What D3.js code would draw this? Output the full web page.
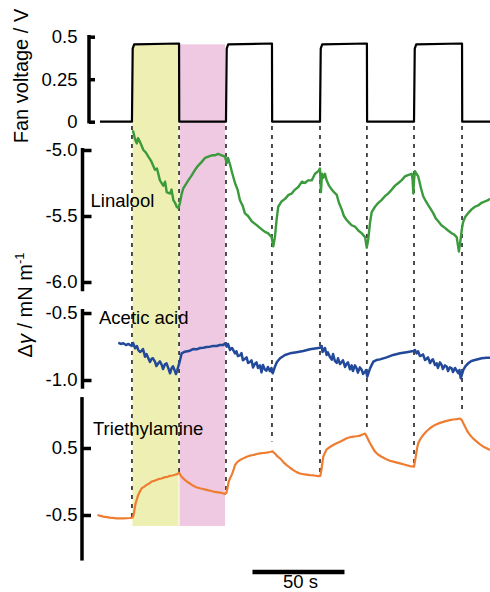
<!DOCTYPE html>
<html>
<head>
<meta charset="utf-8">
<script src="https://cdn.jsdelivr.net/npm/d3@7"></script>
<style>
  html, body { margin: 0; padding: 0; background: #fff; }
  svg { display: block; font-family: "Liberation Sans", Arial, Helvetica, sans-serif; }
</style>
</head>
<body>
<svg id="chart" width="490" height="592"></svg>
<script>
// ---------------- data (time in s) ----------------
const fanSwitchTimes = [19.0, 44.6, 70.1, 95.1, 121.2, 146.7, 172.3, 198.4];
const fanTime  = [1.6, 19.0, 19.4, 20.2, 44.6, 44.7, 70.1, 70.5, 71.3, 95.1, 95.2, 121.2, 121.6, 122.4, 146.7, 146.8, 172.3, 172.7, 173.5, 198.4, 198.5, 213.6];
const fanVolt  = [0, 0, 0.43, 0.455, 0.46, 0, 0, 0.43, 0.455, 0.46, 0, 0, 0.43, 0.455, 0.46, 0, 0, 0.43, 0.455, 0.46, 0, 0];

const shadeOn  = [19.0, 44.6];   // yellow: fan on
const shadeOff = [44.6, 70.1];   // pink: fan off

const linalool = [
 [19.0,-4.86],[19.7,-4.86],[20.7,-4.92],[21.6,-4.95],[22.3,-4.91],[23.4,-4.94],[25.2,-5.00],[26.6,-5.02],
 [27.9,-5.05],[29.3,-5.08],[31.5,-5.15],[32.6,-5.14],[34.2,-5.23],[36.0,-5.27],[37.0,-5.24],[37.9,-5.32],
 [39.7,-5.33],[40.5,-5.30],[41.5,-5.38],[42.4,-5.40],[43.3,-5.43],[44.2,-5.44],[45.1,-5.40],[45.9,-5.34],
 [46.9,-5.29],[49.6,-5.23],[51.1,-5.20],[53.3,-5.15],[54.9,-5.12],[56.9,-5.09],[58.7,-5.06],[60.5,-5.05],
 [62.5,-5.04],[64.1,-5.04],[65.8,-5.03],[67.8,-5.04],[69.6,-5.05],[70.5,-5.10],[71.2,-5.06],[72.3,-5.11],
 [73.4,-5.17],[75.0,-5.25],[76.4,-5.30],[77.7,-5.38],[79.1,-5.42],[80.4,-5.48],[82.1,-5.50],[84.1,-5.54],
 [85.9,-5.56],[87.7,-5.58],[89.4,-5.60],[91.3,-5.62],[92.9,-5.63],[94.9,-5.66],[95.8,-5.73],[96.7,-5.66],
 [97.6,-5.53],[98.5,-5.43],[100.3,-5.39],[102.2,-5.37],[104.1,-5.34],[105.8,-5.33],[107.6,-5.30],[109.4,-5.28],
 [111.4,-5.24],[113.0,-5.25],[114.7,-5.23],[116.7,-5.23],[118.5,-5.18],[120.3,-5.16],[121.2,-5.14],[121.7,-5.32],
 [122.3,-5.18],[123.0,-5.21],[123.9,-5.18],[124.8,-5.23],[126.1,-5.27],[127.6,-5.30],[128.8,-5.32],[130.3,-5.34],
 [131.5,-5.40],[133.0,-5.45],[134.2,-5.50],[135.7,-5.53],[137.0,-5.55],[138.4,-5.57],[140.2,-5.58],[142.0,-5.61],
 [143.8,-5.63],[145.7,-5.66],[146.6,-5.74],[147.4,-5.68],[148.4,-5.55],[149.3,-5.47],[151.1,-5.43],[152.9,-5.40],
 [154.6,-5.38],[156.5,-5.35],[158.2,-5.33],[160.2,-5.30],[162.0,-5.27],[163.8,-5.25],[165.5,-5.23],[167.4,-5.20],
 [169.0,-5.19],[171.0,-5.18],[171.5,-5.22],[171.9,-5.33],[172.3,-5.23],[172.8,-5.16],[173.6,-5.18],[174.6,-5.20],
 [176.1,-5.29],[177.3,-5.35],[178.8,-5.39],[180.1,-5.42],[181.5,-5.45],[182.8,-5.48],[184.2,-5.52],[185.5,-5.54],
 [187.2,-5.57],[189.1,-5.59],[190.8,-5.61],[192.8,-5.63],[194.0,-5.64],[195.5,-5.66],[196.7,-5.77],[197.6,-5.68],
 [198.2,-5.61],[198.9,-5.55],[200.0,-5.51],[201.6,-5.48],[203.6,-5.45],[205.4,-5.43],[207.2,-5.42],[209.0,-5.40],
 [210.9,-5.39],[212.5,-5.38],[213.6,-5.37]
];

const aceticAcid = [
 [11.6,-0.722],[13.0,-0.731],[14.3,-0.726],[15.8,-0.739],[17.0,-0.731],[18.9,-0.746],[19.6,-0.724],[20.7,-0.763],
 [21.7,-0.746],[22.4,-0.776],[23.4,-0.791],[24.3,-0.781],[25.0,-0.769],[26.1,-0.826],[26.9,-0.806],[27.9,-0.838],
 [28.8,-0.866],[29.7,-0.841],[30.4,-0.838],[31.5,-0.863],[32.3,-0.896],[33.3,-0.875],[34.2,-0.861],[35.2,-0.888],
 [35.9,-0.918],[37.0,-0.881],[37.8,-0.876],[38.8,-0.913],[39.7,-0.950],[40.6,-0.910],[41.3,-0.898],[42.4,-0.935],
 [42.9,-0.955],[43.6,-0.928],[44.7,-0.875],[46.0,-0.801],[47.8,-0.789],[50.5,-0.781],[52.2,-0.769],[54.2,-0.771],
 [56.0,-0.761],[57.8,-0.759],[59.5,-0.754],[61.4,-0.751],[63.0,-0.746],[65.1,-0.746],[66.8,-0.739],[68.6,-0.739],
 [69.6,-0.726],[70.5,-0.751],[71.2,-0.731],[72.3,-0.776],[73.4,-0.761],[75.0,-0.801],[75.8,-0.786],[76.6,-0.821],
 [77.7,-0.816],[78.5,-0.799],[79.3,-0.853],[80.4,-0.841],[81.3,-0.831],[82.1,-0.873],[83.2,-0.865],[84.0,-0.853],
 [84.8,-0.906],[85.9,-0.878],[86.7,-0.868],[87.5,-0.910],[88.6,-0.891],[89.4,-0.943],[90.2,-0.888],[91.3,-0.923],
 [92.1,-0.930],[92.9,-0.903],[94.0,-0.935],[94.8,-0.910],[95.5,-0.950],[96.7,-0.901],[97.8,-0.866],[99.5,-0.838],
 [102.2,-0.813],[104.9,-0.801],[108.5,-0.793],[112.1,-0.784],[115.8,-0.771],[119.4,-0.763],[121.2,-0.759],[122.1,-0.746],
 [122.6,-0.791],[123.0,-0.779],[123.9,-0.761],[124.8,-0.813],[125.5,-0.794],[126.6,-0.828],[127.6,-0.848],[128.3,-0.806],
 [129.3,-0.858],[130.3,-0.873],[131.0,-0.838],[132.1,-0.881],[133.0,-0.865],[133.7,-0.853],[134.8,-0.903],[135.7,-0.878],
 [136.4,-0.868],[137.5,-0.920],[138.4,-0.891],[139.1,-0.933],[140.2,-0.891],[141.1,-0.913],[141.8,-0.945],[142.9,-0.906],
 [143.9,-0.925],[144.6,-0.955],[145.7,-0.940],[146.2,-0.925],[146.9,-0.975],[148.4,-0.913],[150.2,-0.863],[151.9,-0.851],
 [153.8,-0.846],[157.4,-0.831],[161.0,-0.813],[164.7,-0.801],[168.3,-0.793],[171.9,-0.784],[172.8,-0.776],[173.7,-0.801],
 [174.5,-0.786],[175.5,-0.821],[176.5,-0.816],[177.2,-0.809],[178.3,-0.851],[179.2,-0.841],[179.9,-0.831],[181.0,-0.873],
 [181.9,-0.853],[182.6,-0.846],[183.7,-0.888],[184.6,-0.875],[185.3,-0.910],[186.4,-0.868],[187.3,-0.888],[188.0,-0.918],
 [189.1,-0.891],[190.1,-0.901],[190.8,-0.933],[191.8,-0.906],[192.8,-0.913],[193.5,-0.940],[194.6,-0.910],[196.4,-0.950],
 [197.0,-0.925],[197.7,-0.987],[199.1,-0.925],[200.3,-0.896],[201.8,-0.875],[203.5,-0.858],[205.4,-0.851],[209.1,-0.838],
 [211.8,-0.834],[213.6,-0.834]
];

const triethylamine = [
 [0.2,-0.50],[3.4,-0.525],[7.1,-0.54],[10.7,-0.549],[14.3,-0.549],[17.9,-0.545],[19.3,-0.54],[19.9,-0.50],
 [20.5,-0.40],[21.0,-0.325],[22.4,-0.20],[23.3,-0.15],[24.3,-0.10],[25.5,-0.08],[27.0,-0.05],[28.3,-0.03],
 [29.7,0.00],[31.2,0.01],[33.3,0.035],[35.0,0.045],[37.0,0.065],[38.4,0.07],[39.7,0.085],[41.0,0.09],
 [42.4,0.10],[43.6,0.11],[44.7,0.13],[45.3,0.10],[46.0,0.07],[47.3,0.035],[48.8,0.00],[50.5,-0.03],
 [52.3,-0.065],[54.0,-0.085],[55.9,-0.10],[59.6,-0.125],[63.2,-0.15],[66.8,-0.165],[69.6,-0.185],[70.3,-0.17],
 [70.9,-0.10],[71.6,0.00],[72.5,0.06],[73.4,0.11],[74.3,0.18],[75.0,0.245],[76.2,0.29],[77.7,0.32],
 [79.5,0.345],[81.4,0.37],[83.0,0.385],[84.9,0.395],[86.8,0.41],[88.6,0.42],[90.4,0.425],[92.2,0.43],
 [94.0,0.44],[95.4,0.45],[96.2,0.43],[97.0,0.41],[98.2,0.37],[99.5,0.345],[101.3,0.29],[103.1,0.245],
 [104.9,0.205],[106.7,0.17],[108.5,0.14],[110.3,0.12],[113.0,0.105],[115.8,0.095],[118.0,0.09],[120.3,0.08],
 [121.4,0.085],[122.0,0.18],[122.5,0.28],[123.0,0.37],[123.9,0.43],[124.8,0.48],[126.6,0.515],[128.4,0.545],
 [130.2,0.57],[132.1,0.595],[133.9,0.62],[135.7,0.645],[137.5,0.66],[139.3,0.67],[141.1,0.675],[142.9,0.685],
 [144.3,0.70],[145.7,0.715],[146.6,0.67],[147.5,0.62],[148.4,0.57],[149.7,0.51],[151.1,0.445],[152.9,0.40],
 [154.7,0.37],[157.0,0.335],[159.2,0.31],[162.0,0.29],[164.7,0.27],[167.4,0.25],[170.1,0.23],[172.3,0.22],
 [172.8,0.30],[173.4,0.40],[174.0,0.50],[174.6,0.57],[175.9,0.64],[177.3,0.695],[179.1,0.75],[181.0,0.795],
 [182.8,0.83],[184.6,0.855],[186.4,0.875],[188.2,0.89],[190.0,0.905],[191.8,0.915],[193.6,0.925],[195.5,0.93],
 [197.3,0.94],[198.2,0.92],[199.1,0.87],[200.0,0.82],[201.3,0.75],[202.7,0.695],[204.5,0.64],[206.4,0.595],
 [208.2,0.555],[210.0,0.52],[211.8,0.495],[213.6,0.47]
];

const fanTicks = [0, 0.25, 0.5];
const fanTickLabels = ["0", "0.25", "0.5"];
const linaloolTicks = [-5.0, -5.5, -6.0];
const linaloolTickLabels = ["-5.0", "-5.5", "-6.0"];
const aceticTicks = [-0.5, -1.0];
const aceticTickLabels = ["-0.5", "-1.0"];
const teaTicks = [0.5, -0.5];
const teaTickLabels = ["0.5", "-0.5"];
const scaleBarSeconds = 50;

// ---------------- layout ----------------
const svg = d3.select("#chart");
const x = d3.scaleLinear().domain([0, 213.6]).range([97, 490]);

const yFan = d3.scaleLinear().domain([0, 0.5]).range([121.7, 36.7]);
const yLin = d3.scaleLinear().domain([-6.0, -5.0]).range([282, 150]);
const yAce = d3.scaleLinear().domain([-1.0, -0.5]).range([380, 313]);
const yTea = d3.scaleLinear().domain([-0.5, 0.5]).range([515, 448]);

const colGreen = "#3a9a3c", colBlue = "#22499a", colOrange = "#ee7d31";

// shading
svg.append("rect").attr("x", x(shadeOn[0]) + 0.5).attr("width", x(shadeOn[1]) - x(shadeOn[0]) - 1)
  .attr("y", yFan(0.455)).attr("height", 526 - yFan(0.455)).attr("fill", "#eef0b3");
svg.append("rect").attr("x", x(shadeOff[0]) + 0.5).attr("width", x(shadeOff[1]) - x(shadeOff[0]) - 1.5)
  .attr("y", yFan(0.455)).attr("height", 526 - yFan(0.455)).attr("fill", "#eec9e1");

// dashed switch lines, ending at the triethylamine trace
const bis = d3.bisector(d => d[0]).left;
function teaAt(t) {
  const i = Math.max(1, Math.min(triethylamine.length - 1, bis(triethylamine, t)));
  const a = triethylamine[i - 1], b = triethylamine[i];
  return a[1] + (b[1] - a[1]) * (t - a[0]) / (b[0] - a[0]);
}
svg.append("g").selectAll("line").data(fanSwitchTimes).join("line")
  .attr("x1", d => x(d)).attr("x2", d => x(d))
  .attr("y1", 126)
  .attr("y2", (d, i) => yTea(teaAt(d)) - (i % 2 === 1 && i > 1 ? 10 : 0))
  .attr("stroke", "#222").attr("stroke-width", 1.6).attr("stroke-dasharray", "4,5");

// traces
const line = (ys) => d3.line().x(d => x(d[0])).y(d => ys(d[1]));
svg.append("path").datum(d3.zip(fanTime, fanVolt)).attr("d", line(yFan))
  .attr("fill", "none").attr("stroke", "#000").attr("stroke-width", 2.2).attr("stroke-linejoin", "round");
svg.append("path").datum(linalool).attr("d", line(yLin))
  .attr("fill", "none").attr("stroke", colGreen).attr("stroke-width", 2.4).attr("stroke-linejoin", "round");
svg.append("path").datum(aceticAcid).attr("d", line(yAce))
  .attr("fill", "none").attr("stroke", colBlue).attr("stroke-width", 2.5).attr("stroke-linejoin", "round");
svg.append("path").datum(triethylamine).attr("d", line(yTea))
  .attr("fill", "none").attr("stroke", colOrange).attr("stroke-width", 2.2).attr("stroke-linejoin", "round");

// axes
function drawAxis(scale, ticks, labels, axisX, extent, tickLen, pad) {
  const g = svg.append("g").attr("transform", `translate(${axisX},0)`);
  const ax = d3.axisLeft(scale).tickValues(ticks).tickFormat((d, i) => labels[i])
    .tickSize(-tickLen).tickPadding(pad);
  g.call(ax);
  g.select(".domain").remove();
  g.selectAll(".tick line").attr("stroke", "#000").attr("stroke-width", 3.5);
  g.selectAll(".tick text").attr("font-size", 18.5).attr("fill", "#000")
    .attr("font-family", "Liberation Sans, Arial, sans-serif");
  g.append("line").attr("x1", 0).attr("x2", 0)
    .attr("y1", scale(extent[0])).attr("y2", scale(extent[1]))
    .attr("stroke", "#000").attr("stroke-width", 3.5);
}
drawAxis(yFan, fanTicks, fanTickLabels, 89, [-0.01, 0.51], 6, 11.5);
drawAxis(yLin, linaloolTicks, linaloolTickLabels, 82.5, [-6.07, -4.985], 9, 5);
drawAxis(yAce, aceticTicks, aceticTickLabels, 82.5, [-1.065, -0.47], 9, 5);
drawAxis(yTea, teaTicks, teaTickLabels, 82, [-1.18, 1.26], 9, 4.5);

// axis titles
svg.append("text").attr("transform", "translate(28,76) rotate(-90)")
  .attr("text-anchor", "middle").attr("font-size", 20).text("Fan voltage / V");
const t2 = svg.append("text").attr("transform", "translate(32,305) rotate(-90)")
  .attr("text-anchor", "middle").attr("font-size", 20);
t2.append("tspan").text("Δ");
t2.append("tspan").attr("font-style", "italic").text("γ");
t2.append("tspan").text(" / mN m");
t2.append("tspan").attr("font-size", 13).attr("dy", -8).text("-1");

// series labels
svg.append("text").attr("x", 90.5).attr("y", 207).attr("font-size", 18.5).text("Linalool");
svg.append("text").attr("x", 99).attr("y", 324).attr("font-size", 18.5).text("Acetic acid");
svg.append("text").attr("x", 93).attr("y", 435).attr("font-size", 18.5).text("Triethylamine");

// scale bar
const sbStart = x(84.5);
svg.append("line").attr("x1", sbStart).attr("x2", sbStart + (x(scaleBarSeconds) - x(0)))
  .attr("y1", 572).attr("y2", 572).attr("stroke", "#000").attr("stroke-width", 4.5);
svg.append("text").attr("x", sbStart + (x(scaleBarSeconds) - x(0)) / 2 + 2).attr("y", 588)
  .attr("text-anchor", "middle").attr("font-size", 18.5).text(scaleBarSeconds + " s");
</script>
</body>
</html>
